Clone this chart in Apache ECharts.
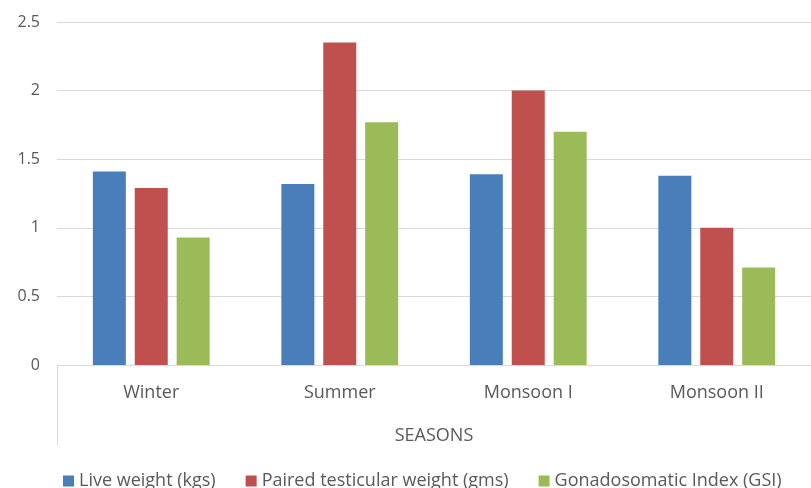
<!DOCTYPE html>
<html><head><meta charset="utf-8">
<script src="https://cdn.jsdelivr.net/npm/echarts@6/dist/echarts.min.js"></script>
<style>html,body{margin:0;padding:0;background:#fff}#c{width:811px;height:488px}</style>
</head><body><div id="c"></div>
<script>
const categories = ["Winter", "Summer", "Monsoon I", "Monsoon II"];
const liveWeight = [1.41, 1.32, 1.39, 1.38];
const testicularWeight = [1.29, 2.35, 2.0, 1.0];
const gsi = [0.93, 1.77, 1.70, 0.71];
const seriesNames = ["Live weight (kgs)", "Paired testicular weight (gms)", "Gonadosomatic Index (GSI)"];
const yTicks = { min: 0, max: 2.5, interval: 0.5 };

const font = "'Open Sans', sans-serif";
const chart = echarts.init(document.getElementById('c'));
chart.setOption({
  animation: false,
  color: ['#4a7ebb', '#c0504d', '#9bbb59'],
  grid: { left: 57, right: 0, top: 22, bottom: 123 },
  legend: {
    top: 467, left: 58,
    icon: 'rect', itemWidth: 11, itemHeight: 11, itemGap: 30,
    textStyle: { fontFamily: font, fontSize: 18, color: '#595959' },
    data: seriesNames
  },
  xAxis: {
    type: 'category', data: categories,
    name: 'SEASONS', nameLocation: 'middle', nameGap: 62,
    nameTextStyle: { fontFamily: font, fontSize: 18, color: '#595959' },
    axisLine: { lineStyle: { color: '#d9d9d9', width: 1 } },
    axisTick: { show: true, length: 80, interval: (i) => i === 0, lineStyle: { color: '#d9d9d9' } },
    axisLabel: { fontFamily: font, fontSize: 18, color: '#595959', margin: 19 }
  },
  yAxis: {
    type: 'value', min: yTicks.min, max: yTicks.max, interval: yTicks.interval,
    axisLine: { show: false }, axisTick: { show: false },
    splitLine: { lineStyle: { color: '#d9d9d9', width: 1 } },
    axisLabel: { fontFamily: font, fontSize: 16, color: '#595959', margin: 17 }
  },
  series: [
    { name: seriesNames[0], type: 'bar', data: liveWeight, barWidth: 33, barGap: '27%' },
    { name: seriesNames[1], type: 'bar', data: testicularWeight, barWidth: 33, barGap: '27%' },
    { name: seriesNames[2], type: 'bar', data: gsi, barWidth: 33, barGap: '27%' }
  ]
});
</script></body></html>
